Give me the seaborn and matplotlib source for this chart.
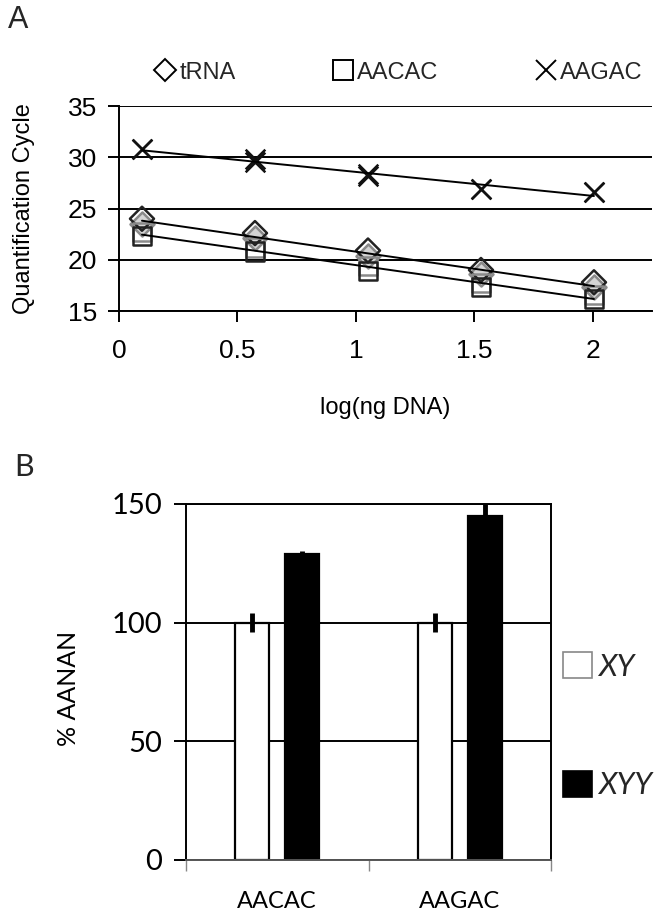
import numpy as np
import pandas as pd
import matplotlib
matplotlib.use("Agg")
import matplotlib.pyplot as plt
from matplotlib.lines import Line2D
from matplotlib.patches import Patch
import seaborn as sns

# ------------------------------
# Panel A data: standard curves (two replicates per target)
# ------------------------------
LOG_NG = [0.097, 0.574, 1.051, 1.528, 2.005]
TRNA_REP1 = [24.0, 22.6, 20.9, 19.0, 17.8]
TRNA_REP2 = [23.5, 22.1, 20.4, 18.6, 17.3]
AACAC_REP1 = [22.3, 20.8, 18.9, 17.3, 16.2]
AACAC_REP2 = [22.7, 21.2, 19.4, 17.7, 16.6]
AAGAC_REP1 = [30.8, 29.8, 28.4, 26.9, 26.6]
AAGAC_REP2 = [30.8, 29.5, 28.2, 26.9, 26.6]

# ------------------------------
# Panel B data: relative abundance
# ------------------------------
TARGETS = ["AACAC", "AAGAC"]
GENOTYPES = ["XY", "XYY"]
PCT_XY = [100, 100]
PCT_XYY = [129, 145]
ERR_XY = [4, 4]
ERR_XYY = [1, 6]

sns.set_theme(style="white")
plt.rcParams["font.family"] = ["Liberation Sans", "DejaVu Sans"]

W, H = 662, 911
fig = plt.figure(figsize=(W / 100, H / 100), dpi=100)


def px_axes(left, top, right, bottom):
    return fig.add_axes([left / W, 1 - bottom / H, (right - left) / W, (bottom - top) / H])


# ----- Panel A -----
axA = px_axes(119, 106, 652, 311)

rows = []
for name, reps in [("tRNA", [TRNA_REP1, TRNA_REP2]),
                   ("AACAC", [AACAC_REP1, AACAC_REP2]),
                   ("AAGAC", [AAGAC_REP1, AAGAC_REP2])]:
    for r, vals in enumerate(reps, start=1):
        for x, y in zip(LOG_NG, vals):
            rows.append({"log_ng": x, "cq": y, "target": name, "rep": r})
dfA = pd.DataFrame(rows)

style = {
    ("tRNA", 2): dict(marker="D", s=150, facecolor="#d4d4d4", edgecolor="#8a8a8a"),
    ("tRNA", 1): dict(marker="D", s=150, facecolor="none", edgecolor="#222222"),
    ("AACAC", 2): dict(marker="s", s=170, facecolor="none", edgecolor="#8a8a8a"),
    ("AACAC", 1): dict(marker="s", s=170, facecolor="none", edgecolor="#222222"),
    ("AAGAC", 2): dict(marker="x", s=200, color="#111111"),
    ("AAGAC", 1): dict(marker="x", s=200, color="#111111"),
}
for (name, r), kw in style.items():
    sub = dfA[(dfA.target == name) & (dfA.rep == r)]
    sns.scatterplot(data=sub, x="log_ng", y="cq", ax=axA, linewidth=1.8,
                    zorder=3, legend=False, **kw)

for name in ["tRNA", "AACAC", "AAGAC"]:
    sub = dfA[dfA.target == name]
    sns.regplot(data=sub, x="log_ng", y="cq", ax=axA, scatter=False, ci=None,
                truncate=True, line_kws=dict(color="black", lw=1.4, zorder=4))

axA.set_xlim(0, 2.25)
axA.set_ylim(15, 35)
axA.set_xticks([0, 0.5, 1, 1.5, 2])
axA.set_xticklabels(["0", "0.5", "1", "1.5", "2"])
axA.set_yticks([15, 20, 25, 30, 35])
axA.yaxis.grid(True, color="black", lw=1.4)
axA.set_axisbelow(True)
for s in ["top", "right"]:
    axA.spines[s].set_visible(False)
for s in ["left", "bottom"]:
    axA.spines[s].set_color("black")
    axA.spines[s].set_linewidth(1.4)
axA.tick_params(axis="both", direction="out", length=8, width=1.4,
                color="black", labelsize=19, labelcolor="black")
axA.tick_params(axis="x", pad=12, bottom=True)
axA.tick_params(axis="y", pad=8, left=True)
axA.set_xlabel("log(ng DNA)", fontsize=17, color="black")
axA.set_ylabel("Quantification Cycle", fontsize=17, color="black")
axA.xaxis.set_label_coords(0.5, -0.42)
axA.yaxis.set_label_coords(-0.158, 0.5)

handlesA = [
    Line2D([], [], ls="none", marker="D", ms=11, mfc="white", mec="black", mew=1.4),
    Line2D([], [], ls="none", marker="s", ms=14, mfc="white", mec="black", mew=1.4),
    Line2D([], [], ls="none", marker="x", ms=14, color="black", mew=1.4),
]
fig.legend(handlesA, ["tRNA", "AACAC", "AAGAC"], loc="lower left",
           bbox_to_anchor=(144 / W, 1 - 93 / H, 508 / W, 30 / H), mode="expand",
           ncol=3, frameon=False, fontsize=17, handletextpad=0.1,
           handlelength=1.0, borderaxespad=0)

fig.text(8 / W, 1 - 20 / H, "A", fontsize=22, va="center", ha="left")

# ----- Panel B -----
axB = px_axes(186, 504, 551, 860)
dfB = pd.DataFrame({
    "target": TARGETS * 2,
    "genotype": ["XY"] * 2 + ["XYY"] * 2,
    "pct": PCT_XY + PCT_XYY,
    "err": ERR_XY + ERR_XYY,
})
sns.barplot(data=dfB, x="target", y="pct", hue="genotype", hue_order=GENOTYPES,
            palette={"XY": "white", "XYY": "black"}, edgecolor="black",
            linewidth=1.6, width=0.548, gap=0.32, errorbar=None, ax=axB,
            legend=False, zorder=2)

for cont, g in zip(axB.containers, GENOTYPES):
    sub = dfB[dfB.genotype == g]
    xs = [p.get_x() + p.get_width() / 2 for p in cont.patches]
    axB.errorbar(xs, sub.pct.values, yerr=sub.err.values, fmt="none",
                 ecolor="black", elinewidth=3.5, capsize=0, zorder=3)

axB.set_xlim(-0.5, 1.5)
axB.set_ylim(0, 150)
axB.set_yticks([0, 50, 100, 150])
axB.yaxis.grid(True, color="black", lw=1.4)
axB.set_axisbelow(True)
for s in axB.spines.values():
    s.set_visible(True)
    s.set_color("black")
    s.set_linewidth(1.4)
axB.spines["bottom"].set_color("#555555")
axB.set_xticks([-0.5, 0.5, 1.5])
axB.set_xticklabels([])
axB.set_xticks([0, 1], minor=True)
axB.set_xticklabels(TARGETS, minor=True, fontfamily="Lato", fontsize=17)
axB.tick_params(axis="x", which="major", bottom=True, length=8, width=1.0, color="#888888")
axB.tick_params(axis="x", which="minor", bottom=True, length=0, pad=22, labelcolor="black")
axB.tick_params(axis="y", left=True, direction="out", length=9, width=1.4,
                color="black", pad=8, labelsize=21, labelcolor="black")
for lab in axB.get_yticklabels():
    lab.set_fontfamily("Lato")
axB.set_xlabel("")
axB.set_ylabel("% AANAN", fontsize=18, fontfamily="Lato", color="black")
axB.yaxis.set_label_coords((80 - 186) / 365, (860 - 688) / 356)

handlesB = [Patch(facecolor="white", edgecolor="#888888", lw=1.2),
            Patch(facecolor="black", edgecolor="black", lw=1.2)]
legB = fig.legend(handlesB, GENOTYPES, loc="upper left",
                  bbox_to_anchor=(563 / W, 1 - 652 / H), frameon=False,
                  prop=dict(family="Lato", style="italic", size=22),
                  handlelength=0.95, handleheight=0.95, handletextpad=0.2,
                  labelspacing=2.95, borderaxespad=0, borderpad=0)

fig.text(14 / W, 1 - 467 / H, "B", fontsize=22, va="center", ha="left",
         fontfamily="Lato")

fig.savefig("out.png", dpi=100)
